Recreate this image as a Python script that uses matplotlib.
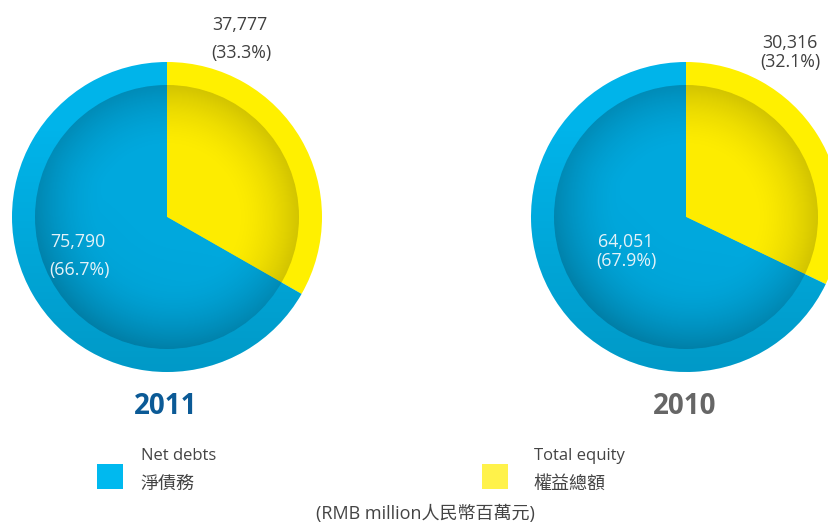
import numpy as np
import matplotlib
matplotlib.use("Agg")
import matplotlib.pyplot as plt
from matplotlib.patches import Circle, Rectangle

plt.rcParams['font.family'] = ['Open Sans', 'Noto Sans CJK TC', 'DejaVu Sans']

# ---- data ----
years = ["2011", "2010"]
net_debts = [75790, 64051]
total_equity = [37777, 30316]
series_names = ["Net debts", "Total equity"]
series_names_zh = ["淨債務", "權益總額"]
unit_note = "(RMB million人民幣百萬元)"

# ---- styling ----
W, H = 829, 524
BLUE = "#00B4EA"
YELLOW = "#FFF000"
BLUE_INNER = "#00A8DD"
YELLOW_INNER = "#FDEC00"
YEAR_COLORS = ["#0B5A96", "#666666"]
LABEL_DARK = "#404040"
LABEL_LIGHT = "#E4F2F8"

fig = plt.figure(figsize=(W / 100, H / 100), dpi=100)
ax = fig.add_axes([0, 0, 1, 1])

def Y(py):
    return H - py

centers = [(167, Y(217)), (686, Y(217))]
R_OUT, R_IN = 155, 132

def shade_image(kind):
    n = 400
    xs = np.linspace(-1, 1, n)
    X, Yg = np.meshgrid(xs, xs[::-1])
    r = np.sqrt(X ** 2 + Yg ** 2)
    img = np.zeros((n, n, 4))
    if kind == "inner":
        a = 0.17 * np.clip((r - 0.5) / 0.5, 0, 1) ** 1.8
        a += 0.09 * np.clip(-(Yg * 0.8 + X * 0.4), 0, 1) * np.clip(r, 0, 1)
        a = np.clip(a, 0, 0.3)
    else:
        a = 0.15 * np.clip((0.6 - Yg) / 1.6, 0, 1)
    img[..., 3] = a
    return img

for i, (c, nd, te) in enumerate(zip(centers, net_debts, total_equity)):
    vals = [te, nd]
    wo, _ = ax.pie(vals, colors=[YELLOW, BLUE], startangle=90, counterclock=False,
                   radius=R_OUT, center=c, wedgeprops=dict(linewidth=0))
    im = ax.imshow(shade_image("outer"),
                   extent=(c[0] - R_OUT, c[0] + R_OUT, c[1] - R_OUT, c[1] + R_OUT),
                   zorder=2, interpolation="bilinear")
    im.set_clip_path(wo[1])
    wi, _ = ax.pie(vals, colors=[YELLOW_INNER, BLUE_INNER], startangle=90, counterclock=False,
                   radius=R_IN, center=c, wedgeprops=dict(linewidth=0))
    for w in wi:
        w.set_zorder(3)
    circ = Circle(c, R_IN, transform=ax.transData, facecolor="none", edgecolor="none")
    ax.add_patch(circ)
    im2 = ax.imshow(shade_image("inner"),
                    extent=(c[0] - R_IN, c[0] + R_IN, c[1] - R_IN, c[1] + R_IN),
                    zorder=4, interpolation="bilinear")
    im2.set_clip_path(circ)

    tot = nd + te
    pe = 100 * te / tot
    pd_ = 100 - pe
    kw = dict(va="center", fontsize=12.8, zorder=6)
    if i == 0:
        ax.text(212, Y(25), f"{te:,}", ha="left", color=LABEL_DARK, **kw)
        ax.text(211, Y(53), f"({pe:.1f}%)", ha="left", color=LABEL_DARK, **kw)
        ax.text(50, Y(242), f"{nd:,}", ha="left", color=LABEL_LIGHT, **kw)
        ax.text(49, Y(270), f"({pd_:.1f}%)", ha="left", color=LABEL_LIGHT, **kw)
    else:
        ax.text(790, Y(43), f"{te:,}", ha="center", color=LABEL_DARK, **kw)
        ax.text(790, Y(62), f"({pe:.1f}%)", ha="center", color=LABEL_DARK, **kw)
        ax.text(626, Y(242), f"{nd:,}", ha="center", color=LABEL_LIGHT, **kw)
        ax.text(626, Y(261), f"({pd_:.1f}%)", ha="center", color=LABEL_LIGHT, **kw)

    ax.text(c[0] - 1, Y(406), years[i], ha="center", va="center", fontsize=20,
            fontweight="bold", color=YEAR_COLORS[i], zorder=6)

# legend
legend_colors = ["#00B9EF", "#FFF24A"]
sq_x = [97, 482]
txt_x = [141, 534]
for sx, tx, col, en, zh in zip(sq_x, txt_x, legend_colors, series_names, series_names_zh):
    ax.add_patch(Rectangle((sx, Y(489)), 26, 25, facecolor=col, edgecolor="none"))
    ax.text(tx, Y(456), en, ha="left", va="center", fontsize=12, color="#444444")
    ax.text(tx - 1, Y(484), zh, ha="left", va="center", fontsize=13, color="#444444")

ax.text(425, Y(514), unit_note, ha="center", va="center", fontsize=13, color="#444444")

ax.set_xlim(0, W)
ax.set_ylim(0, H)
ax.set_aspect("auto")
ax.axis("off")

fig.savefig("out.png", dpi=100, facecolor="white")
